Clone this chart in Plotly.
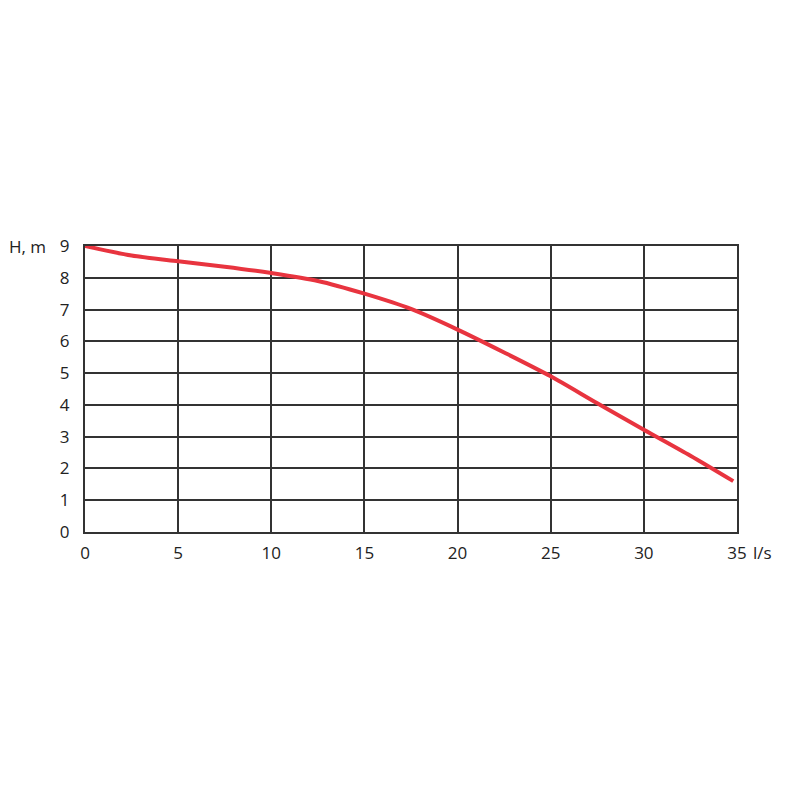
import plotly.graph_objects as go

# Pump curve
flow = [0, 2.5, 5, 7.5, 10, 12.5, 15, 17.5, 20, 22.5, 25, 27.5, 30, 32.5, 34.8]
head = [9.0, 8.7, 8.52, 8.35, 8.15, 7.9, 7.5, 7.02, 6.37, 5.65, 4.9, 4.05, 3.22, 2.4, 1.6]

x_ticks = [0, 5, 10, 15, 20, 25, 30, 35]
y_ticks = [0, 1, 2, 3, 4, 5, 6, 7, 8, 9]

font = dict(family="Open Sans, Noto Sans, sans-serif", size=17, color="#222222")
grid = "#333333"

fig = go.Figure()
fig.add_trace(
    go.Scatter(
        x=flow,
        y=head,
        mode="lines",
        line=dict(color="#e8343f", width=4, shape="spline", smoothing=0.8),
        showlegend=False,
    )
)

fig.update_xaxes(
    range=[0, 35],
    tickvals=x_ticks,
    showgrid=True,
    gridcolor=grid,
    gridwidth=2,
    showline=True,
    linecolor=grid,
    linewidth=2,
    mirror=True,
    zeroline=False,
    ticks="",
    ticklabelstandoff=5,
    tickfont=font,
)
fig.update_yaxes(
    range=[0, 9],
    tickvals=y_ticks,
    showgrid=True,
    gridcolor=grid,
    gridwidth=2,
    showline=True,
    linecolor=grid,
    linewidth=2,
    mirror=True,
    zeroline=False,
    ticks="",
    ticklabelstandoff=10,
    tickfont=font,
)

fig.add_annotation(
    x=0, y=1, xref="paper", yref="paper", text="H, m",
    showarrow=False, xanchor="right", yanchor="middle", xshift=-37, font=font,
)
fig.add_annotation(
    x=1, y=0, xref="paper", yref="paper", text="l/s",
    showarrow=False, xanchor="left", yanchor="middle", xshift=14, yshift=-20, font=font,
)

# page body adds 8px, so margins are shifted to line the plot up with the reference
fig.update_layout(
    width=800,
    height=800,
    margin=dict(l=77, r=71, t=238, b=276),
    plot_bgcolor="white",
    paper_bgcolor="white",
    font=font,
)

fig.write_html("out.html")
